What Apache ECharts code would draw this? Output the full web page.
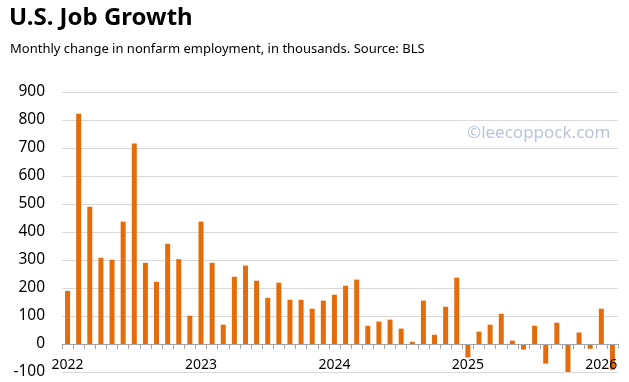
<!DOCTYPE html>
<html>
<head>
<meta charset="utf-8">
<script src="https://cdn.jsdelivr.net/npm/echarts@6/dist/echarts.min.js"></script>
<style>html,body{margin:0;padding:0;background:#fff;}#c{width:629px;height:382px;}</style>
</head>
<body>
<div id="c"></div>
<script>
const months = [];
const years = [2022, 2023, 2024, 2025, 2026];
years.forEach(y => { for (let m = 1; m <= 12; m++) months.push(y + '-' + String(m).padStart(2, '0')); });
const categories = months.slice(0, 50);

const jobs2022 = [190, 822, 490, 308, 301, 437, 716, 290, 222, 358, 303, 101];
const jobs2023 = [437, 290, 69, 240, 280, 226, 165, 219, 158, 158, 126, 155];
const jobs2024 = [176, 208, 230, 65, 80, 87, 55, 8, 155, 33, 133, 237];
const jobs2025 = [-48, 44, 69, 108, 12, -20, 65, -70, 76, -105, 41, -17];
const jobs2026 = [126, -92];
const values = [].concat(jobs2022, jobs2023, jobs2024, jobs2025, jobs2026);

const yTicks = { min: -100, max: 900, interval: 100 };
const FONT = 'Noto Sans';

const chart = echarts.init(document.getElementById('c'), null, { renderer: 'canvas' });
chart.setOption({
  animation: false,
  backgroundColor: '#ffffff',
  title: [
    { text: 'U.S. Job Growth', left: 4, top: 1,
      textStyle: { fontFamily: FONT, fontWeight: 'bold', fontSize: 24, color: '#000' } },
    { text: 'Monthly change in nonfarm employment, in thousands. Source: BLS', left: 5, top: 38,
      textStyle: { fontFamily: FONT, fontWeight: 'normal', fontSize: 13, color: '#000' } },
    { text: '©leecoppock.com', left: 462, top: 120,
      textStyle: { fontFamily: FONT, fontWeight: 'normal', fontSize: 17, color: '#b9c5da' } }
  ],
  grid: { left: 62, right: 11, top: 92, bottom: 10, containLabel: false, outerBoundsMode: 'none' },
  xAxis: {
    type: 'category',
    data: categories,
    boundaryGap: true,
    z: 3,
    axisLine: { onZero: true, lineStyle: { color: '#a6a6a6', width: 1 } },
    axisTick: { show: true, interval: 0, length: 5, alignWithLabel: false, lineStyle: { color: '#a6a6a6' } },
    axisLabel: {
      interval: 0,
      margin: -14,
      fontFamily: FONT, fontSize: 14, color: '#000',
      formatter: v => v.endsWith('-01') ? v.slice(0, 4) : ''
    },
    splitLine: { show: false }
  },
  yAxis: {
    type: 'value',
    min: yTicks.min, max: yTicks.max, interval: yTicks.interval,
    axisLine: { show: false },
    axisTick: { show: false },
    axisLabel: { margin: 17, fontFamily: FONT, fontSize: 15.5, color: '#000' },
    splitLine: { lineStyle: { color: '#d9d9d9', width: 1 } }
  },
  series: [{
    type: 'bar',
    data: values,
    barWidth: 5,
    clip: true,
    itemStyle: { color: '#e46c0a' }
  }]
});
</script>
</body>
</html>
